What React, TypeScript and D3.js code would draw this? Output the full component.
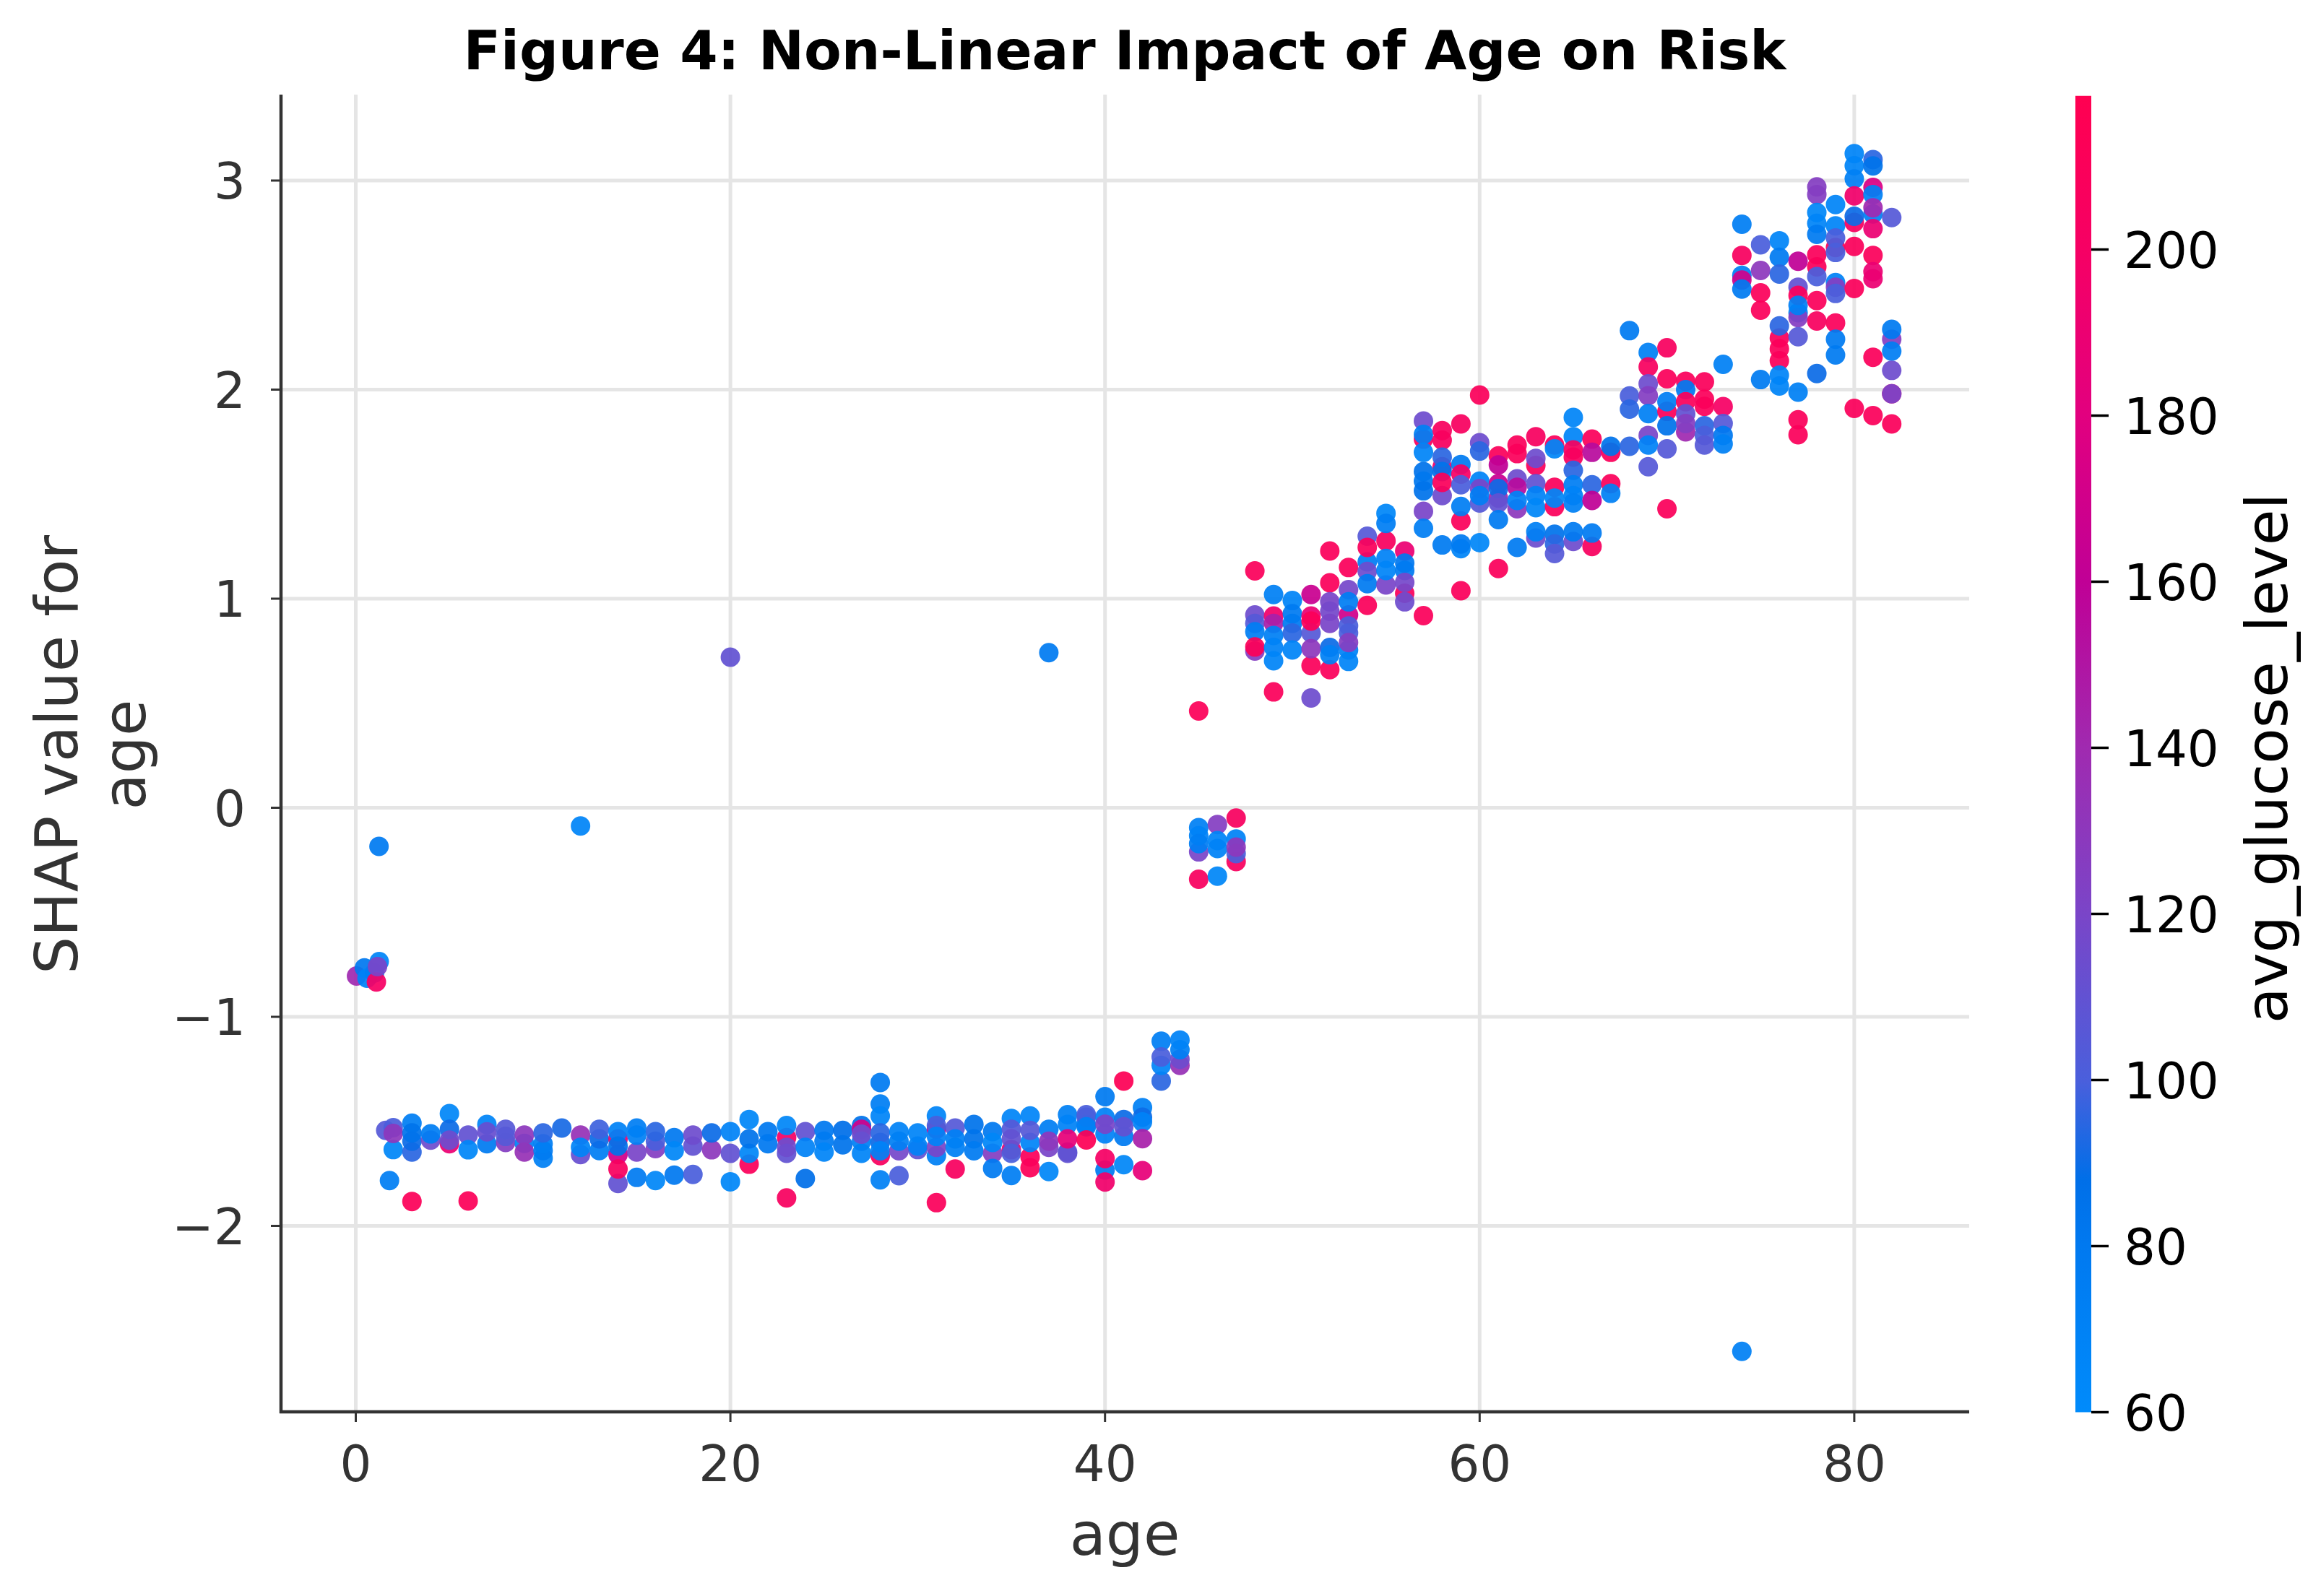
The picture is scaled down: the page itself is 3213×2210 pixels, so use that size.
import React from "react";
import * as d3 from "d3";

// [age, shap, glucose] values, kept as three parallel lists
const ageValues: number[] = [];
const shapValues: number[] = [];
const glucoseValues: number[] = [];
function col(age: number, shap: number[], gluc: number[]) {
  shap.forEach((s, i) => {
    ageValues.push(age);
    shapValues.push(s);
    glucoseValues.push(gluc[i]);
  });
}
col(0.04, [-0.805], [140]);
col(0.46, [-0.766], [80]);
col(0.6, [-0.815], [70]);
col(1.0, [-0.79], [75]);
col(1.1, [-0.833], [200]);
col(1.25, [-0.736], [68]);
col(1.16, [-0.76], [120]);
col(1.24, [-0.185], [78]);
col(1.6, [-1.543], [105]);
col(1.8, [-1.783], [75]);
col(2, [-1.635, -1.53, -1.558], [65, 100, 130]);
col(3, [-1.883, -1.509, -1.647, -1.595, -1.555], [212, 75, 95, 90, 85]);
col(4, [-1.59, -1.56], [115, 75]);
col(5, [-1.607, -1.463, -1.538, -1.59], [190, 65, 90, 115]);
col(6, [-1.881, -1.566, -1.636], [212, 110, 65]);
col(7, [-1.607, -1.515, -1.55], [78, 68, 112]);
col(8, [-1.601, -1.538, -1.572], [125, 105, 105]);
col(9, [-1.605, -1.647, -1.566], [70, 135, 130]);
col(10, [-1.676, -1.64, -1.607, -1.555], [72, 78, 75, 95]);
col(11, [-1.532], [92]);
col(12, [-0.087], [68]);
col(12, [-1.659, -1.566, -1.624], [112, 135, 68]);
col(13, [-1.64, -1.584, -1.538], [75, 90, 98]);
col(14, [-1.797, -1.584, -1.659, -1.728, -1.549, -1.618], [110, 190, 170, 205, 70, 85]);
col(15, [-1.768, -1.647, -1.532, -1.566], [78, 120, 75, 72]);
col(16, [-1.783, -1.63, -1.595, -1.549], [65, 125, 100, 95]);
col(17, [-1.757, -1.578, -1.641], [80, 80, 65]);
col(18, [-1.754, -1.618, -1.566], [100, 110, 115]);
col(19, [-1.636, -1.555], [130, 90]);
col(20, [0.72], [110]);
col(20, [-1.789, -1.549, -1.653], [65, 70, 110]);
col(21, [-1.705, -1.491, -1.653, -1.584], [210, 65, 65, 85]);
col(22, [-1.549, -1.607], [80, 80]);
col(23, [-1.866, -1.578, -1.653, -1.624, -1.52], [205, 200, 110, 115, 65]);
col(24, [-1.774, -1.549, -1.624], [88, 110, 70]);
col(25, [-1.543, -1.595, -1.647], [80, 78, 68]);
col(26, [-1.543, -1.612], [88, 85]);
col(27, [-1.52, -1.538, -1.653, -1.595, -1.561], [85, 170, 68, 72, 115]);
col(28, [-1.664, -1.314, -1.417, -1.474, -1.78, -1.601, -1.555, -1.641], [205, 78, 75, 68, 72, 90, 95, 70]);
col(29, [-1.76, -1.641, -1.549, -1.595], [100, 118, 70, 72]);
col(30, [-1.635, -1.555, -1.618], [110, 68, 70]);
col(31, [-1.889, -1.664, -1.537, -1.624, -1.474, -1.52, -1.572], [210, 72, 170, 120, 68, 100, 70]);
col(32, [-1.728, -1.532, -1.624, -1.584], [205, 105, 72, 72]);
col(33, [-1.515, -1.584, -1.641], [85, 85, 78]);
col(34, [-1.653, -1.725, -1.549, -1.601], [125, 78, 80, 65]);
col(35, [-1.759, -1.635, -1.486, -1.538, -1.584, -1.653], [75, 190, 68, 105, 110, 100]);
col(36, [-1.722, -1.67, -1.474, -1.601, -1.543], [212, 210, 68, 68, 105]);
col(37, [0.742], [78]);
col(37, [-1.74, -1.624, -1.538, -1.595], [65, 120, 75, 130]);
col(38, [-1.647, -1.468, -1.515, -1.653, -1.584], [100, 72, 70, 110, 185]);
col(39, [-1.468, -1.515, -1.48, -1.526, -1.589], [100, 72, 100, 72, 215]);
col(40, [-1.733, -1.678, -1.79, -1.382, -1.48, -1.56, -1.514], [78, 200, 195, 78, 70, 70, 120]);
col(41, [-1.307, -1.707, -1.572, -1.491, -1.526], [215, 65, 78, 90, 110]);
col(42, [-1.736, -1.434, -1.48, -1.503, -1.583], [185, 72, 90, 70, 145]);
col(43, [-1.307, -1.232, -1.117, -1.192], [95, 68, 75, 100]);
col(44, [-1.232, -1.203, -1.157, -1.111], [135, 115, 72, 70]);
col(45, [0.463, -0.342, -0.211, -0.095, -0.134, -0.172], [212, 205, 120, 72, 70, 75]);
col(46, [-0.08, -0.327, -0.157, -0.195], [125, 66, 68, 70]);
col(47, [-0.049, -0.257, -0.149, -0.219, -0.188], [205, 205, 70, 100, 130]);
col(48, [1.133, 0.75, 0.922, 0.882, 0.842, 0.769], [210, 125, 115, 105, 75, 212]);
col(49, [0.554, 0.917, 0.882, 1.02, 0.824, 0.767, 0.703], [210, 195, 145, 72, 72, 70, 68]);
col(50, [0.991, 0.928, 0.882, 0.836, 0.755], [68, 78, 78, 95, 68]);
col(51, [1.02, 0.525, 0.68, 0.917, 0.836, 0.761, 0.893], [165, 115, 210, 190, 105, 130, 212]);
col(52, [1.228, 1.076, 0.661, 0.985, 0.94, 0.882, 0.767, 0.732], [210, 210, 210, 120, 118, 120, 90, 72]);
col(53, [1.149, 0.922, 1.043, 0.985, 0.7, 0.755, 0.87, 0.836, 0.79], [210, 170, 118, 75, 68, 70, 100, 100, 125]);
col(54, [1.299, 0.968, 1.176, 1.13, 1.072, 1.245], [105, 210, 75, 115, 78, 210]);
col(55, [1.276, 1.066, 1.408, 1.36, 1.193, 1.135], [205, 120, 66, 75, 70, 68]);
col(56, [1.228, 1.026, 1.17, 1.135, 1.078, 0.985], [190, 210, 80, 78, 118, 115]);
col(57, [0.919], [210]);
col(57, [1.763, 1.85, 1.786, 1.7, 1.608, 1.562, 1.516, 1.418, 1.337], [205, 115, 72, 68, 85, 82, 85, 120, 75]);
col(58, [1.804, 1.758, 1.631, 1.677, 1.608, 1.493, 1.556, 1.257], [205, 205, 195, 95, 85, 115, 210, 78]);
col(59, [1.836, 1.038, 1.372, 1.642, 1.596, 1.545, 1.441, 1.239, 1.262], [205, 210, 210, 78, 200, 100, 75, 68, 78]);
col(60, [1.974, 1.746, 1.706, 1.458, 1.562, 1.527, 1.493, 1.268], [210, 115, 95, 105, 68, 120, 75, 66]);
col(61, [1.683, 1.144, 1.64, 1.55, 1.481, 1.527, 1.458, 1.378], [210, 210, 160, 165, 140, 90, 110, 78]);
col(62, [1.735, 1.694, 1.573, 1.43, 1.533, 1.47, 1.245], [210, 210, 115, 130, 155, 70, 78]);
col(63, [1.775, 1.637, 1.671, 1.29, 1.32, 1.55, 1.493, 1.435], [205, 210, 115, 115, 72, 110, 70, 66]);
col(64, [1.735, 1.717, 1.44, 1.533, 1.481, 1.308, 1.262, 1.216], [210, 66, 210, 210, 66, 85, 95, 105]);
col(65, [1.867, 1.775, 1.712, 1.677, 1.614, 1.274, 1.545, 1.493, 1.458, 1.32], [68, 68, 205, 205, 95, 115, 75, 70, 72, 78]);
col(66, [1.763, 1.25, 1.7, 1.545, 1.47, 1.314], [210, 205, 155, 95, 160, 78]);
col(67, [1.7, 1.729, 1.55, 1.504], [210, 85, 210, 72]);
col(68, [2.282, 1.729, 1.97, 1.907], [78, 95, 100, 95]);
col(69, [2.178, 2.109, 2.028, 1.971, 1.631, 1.885, 1.781, 1.735], [72, 205, 115, 125, 105, 72, 120, 70]);
col(70, [2.2, 2.052, 1.896, 1.43, 1.942, 1.827, 1.717], [205, 210, 210, 210, 75, 85, 105]);
col(71, [2.04, 2.0, 1.942, 1.798, 1.884, 1.838], [210, 78, 210, 140, 110, 125]);
col(72, [2.037, 1.954, 1.92, 1.827, 1.781, 1.735], [210, 210, 210, 95, 100, 105]);
col(73, [2.121, 1.919, 1.838, 1.781, 1.74], [72, 200, 105, 80, 72]);
col(74, [-2.6], [72]);
col(74, [2.791, 2.642, 2.547, 2.524, 2.481], [75, 205, 72, 170, 78]);
col(75, [2.693, 2.57, 2.463, 2.38, 2.048], [100, 130, 210, 210, 78]);
col(76, [2.712, 2.247, 2.195, 2.305, 2.633, 2.553, 2.138, 2.069, 2.017], [68, 210, 210, 95, 78, 95, 210, 68, 68]);
col(77, [2.614, 2.368, 2.345, 2.49, 2.451, 2.403, 2.253, 1.988, 1.856, 1.784], [160, 68, 125, 110, 210, 72, 105, 72, 210, 210]);
col(78, [2.97, 2.933, 2.847, 2.795, 2.743, 2.645, 2.587, 2.541, 2.426, 2.328, 2.077], [125, 125, 66, 68, 78, 210, 210, 100, 210, 205, 90]);
col(79, [2.885, 2.783, 2.68, 2.725, 2.656, 2.512, 2.49, 2.46, 2.319, 2.241, 2.166], [68, 68, 215, 100, 100, 70, 125, 100, 210, 78, 78]);
col(80, [3.129, 3.071, 3.008, 2.685, 2.484, 1.91, 2.8, 2.927, 2.829], [68, 68, 72, 210, 210, 210, 205, 195, 90]);
col(81, [3.1, 3.07, 2.84, 2.967, 2.933, 2.87, 2.77, 2.642, 2.564, 2.53, 2.155, 1.876], [95, 85, 72, 175, 72, 140, 190, 210, 190, 190, 210, 210]);
col(82, [2.823, 2.241, 2.288, 2.184, 2.092, 1.98, 1.98, 1.836], [105, 125, 78, 75, 115, 200, 120, 210]);

const xTicks = [0, 20, 40, 60, 80];
const yTicks = [-2, -1, 0, 1, 2, 3];
const cTicks = [60, 80, 100, 120, 140, 160, 180, 200];
const colorStops = [60, 80, 88, 100, 120, 140, 160, 180, 200, 218.5];
const colorValues = ["#008bfb", "#0079f0", "#006fe8", "#4a5fdc", "#7a45c8", "#a02ab0", "#c00096", "#e2007f", "#f60064", "#ff0051"];

const WIDTH = 3213;
const HEIGHT = 2210;
const FONT = "'DejaVu Sans', sans-serif";
const AXIS = "#333333";

const x = d3.scaleLinear().domain([0, 80]).range([492.5, 2566.9]);
const y = d3.scaleLinear().domain([0, 3]).range([1118.5, 250]);
const c = d3.scaleLinear<number>().domain([60, 200]).range([1955.5, 345.5]);
const color = d3.scaleLinear<string>().domain(colorStops).range(colorValues).interpolate(d3.interpolateRgb);
const LEFT = 389;
const RIGHT = 2726;
const TOP = 131;
const BOTTOM = 1955;

export default function App() {
  const barTop = c(218.5);
  return (
    <svg
      width={WIDTH}
      height={HEIGHT}
      viewBox={`0 0 ${WIDTH} ${HEIGHT}`}
      style={{ position: "absolute", left: 0, top: 0, background: "#fff" }}
      fontFamily={FONT}
    >
      <defs>
        <linearGradient id="cbar" x1="0" y1="1" x2="0" y2="0">
          {colorStops.map((s) => (
            <stop key={s} offset={(s - 60) / (218.5 - 60)} stopColor={color(s)} />
          ))}
        </linearGradient>
      </defs>
      <text x={1557} y={96} textAnchor="middle" fontSize={75.4} fontWeight="bold" fill="#000">
        Figure 4: Non-Linear Impact of Age on Risk
      </text>

      {xTicks.map((t) => (
        <line key={t} x1={x(t)} x2={x(t)} y1={TOP} y2={BOTTOM} stroke="#e5e5e5" strokeWidth={5} />
      ))}
      {yTicks.map((t) => (
        <line key={t} x1={LEFT} x2={RIGHT} y1={y(t)} y2={y(t)} stroke="#e5e5e5" strokeWidth={5} />
      ))}

      {ageValues.map((a, i) => (
        <circle key={i} cx={x(a)} cy={y(shapValues[i])} r={13.5} fill={color(glucoseValues[i])} fillOpacity={0.93} />
      ))}

      <line x1={LEFT} x2={LEFT} y1={TOP} y2={BOTTOM + 2} stroke={AXIS} strokeWidth={4.5} />
      <line x1={LEFT - 2} x2={RIGHT} y1={BOTTOM} y2={BOTTOM} stroke={AXIS} strokeWidth={4.5} />
      {xTicks.map((t) => (
        <g key={t}>
          <line x1={x(t)} x2={x(t)} y1={BOTTOM} y2={BOTTOM + 14} stroke={AXIS} strokeWidth={3} />
          <text x={x(t)} y={2051} textAnchor="middle" fontSize={69} fill={AXIS}>
            {t}
          </text>
        </g>
      ))}
      {yTicks.map((t) => (
        <g key={t}>
          <line x1={LEFT - 14} x2={LEFT} y1={y(t)} y2={y(t)} stroke={AXIS} strokeWidth={3} />
          <text x={340} y={y(t) + 25} textAnchor="end" fontSize={69} fill={AXIS}>
            {t < 0 ? `\u2212${-t}` : t}
          </text>
        </g>
      ))}

      <text x={1557} y={2153} textAnchor="middle" fontSize={82} fill={AXIS}>
        age
      </text>
      <text transform="translate(107,1045) rotate(-90)" textAnchor="middle" fontSize={82} fill={AXIS}>
        SHAP value for
      </text>
      <text transform="translate(201,1045) rotate(-90)" textAnchor="middle" fontSize={82} fill={AXIS}>
        age
      </text>

      <rect x={2873} y={barTop} width={22} height={c(60) - barTop} fill="url(#cbar)" />
      {cTicks.map((t) => (
        <g key={t}>
          <line x1={2895} x2={2919} y1={c(t)} y2={c(t)} stroke="#000" strokeWidth={3.5} />
          <text x={2940} y={c(t) + 25} fontSize={69} fill="#000">
            {t}
          </text>
        </g>
      ))}
      <text transform="translate(3166,1050) rotate(-90)" textAnchor="middle" fontSize={81} fill="#000">
        avg_glucose_level
      </text>
    </svg>
  );
}
